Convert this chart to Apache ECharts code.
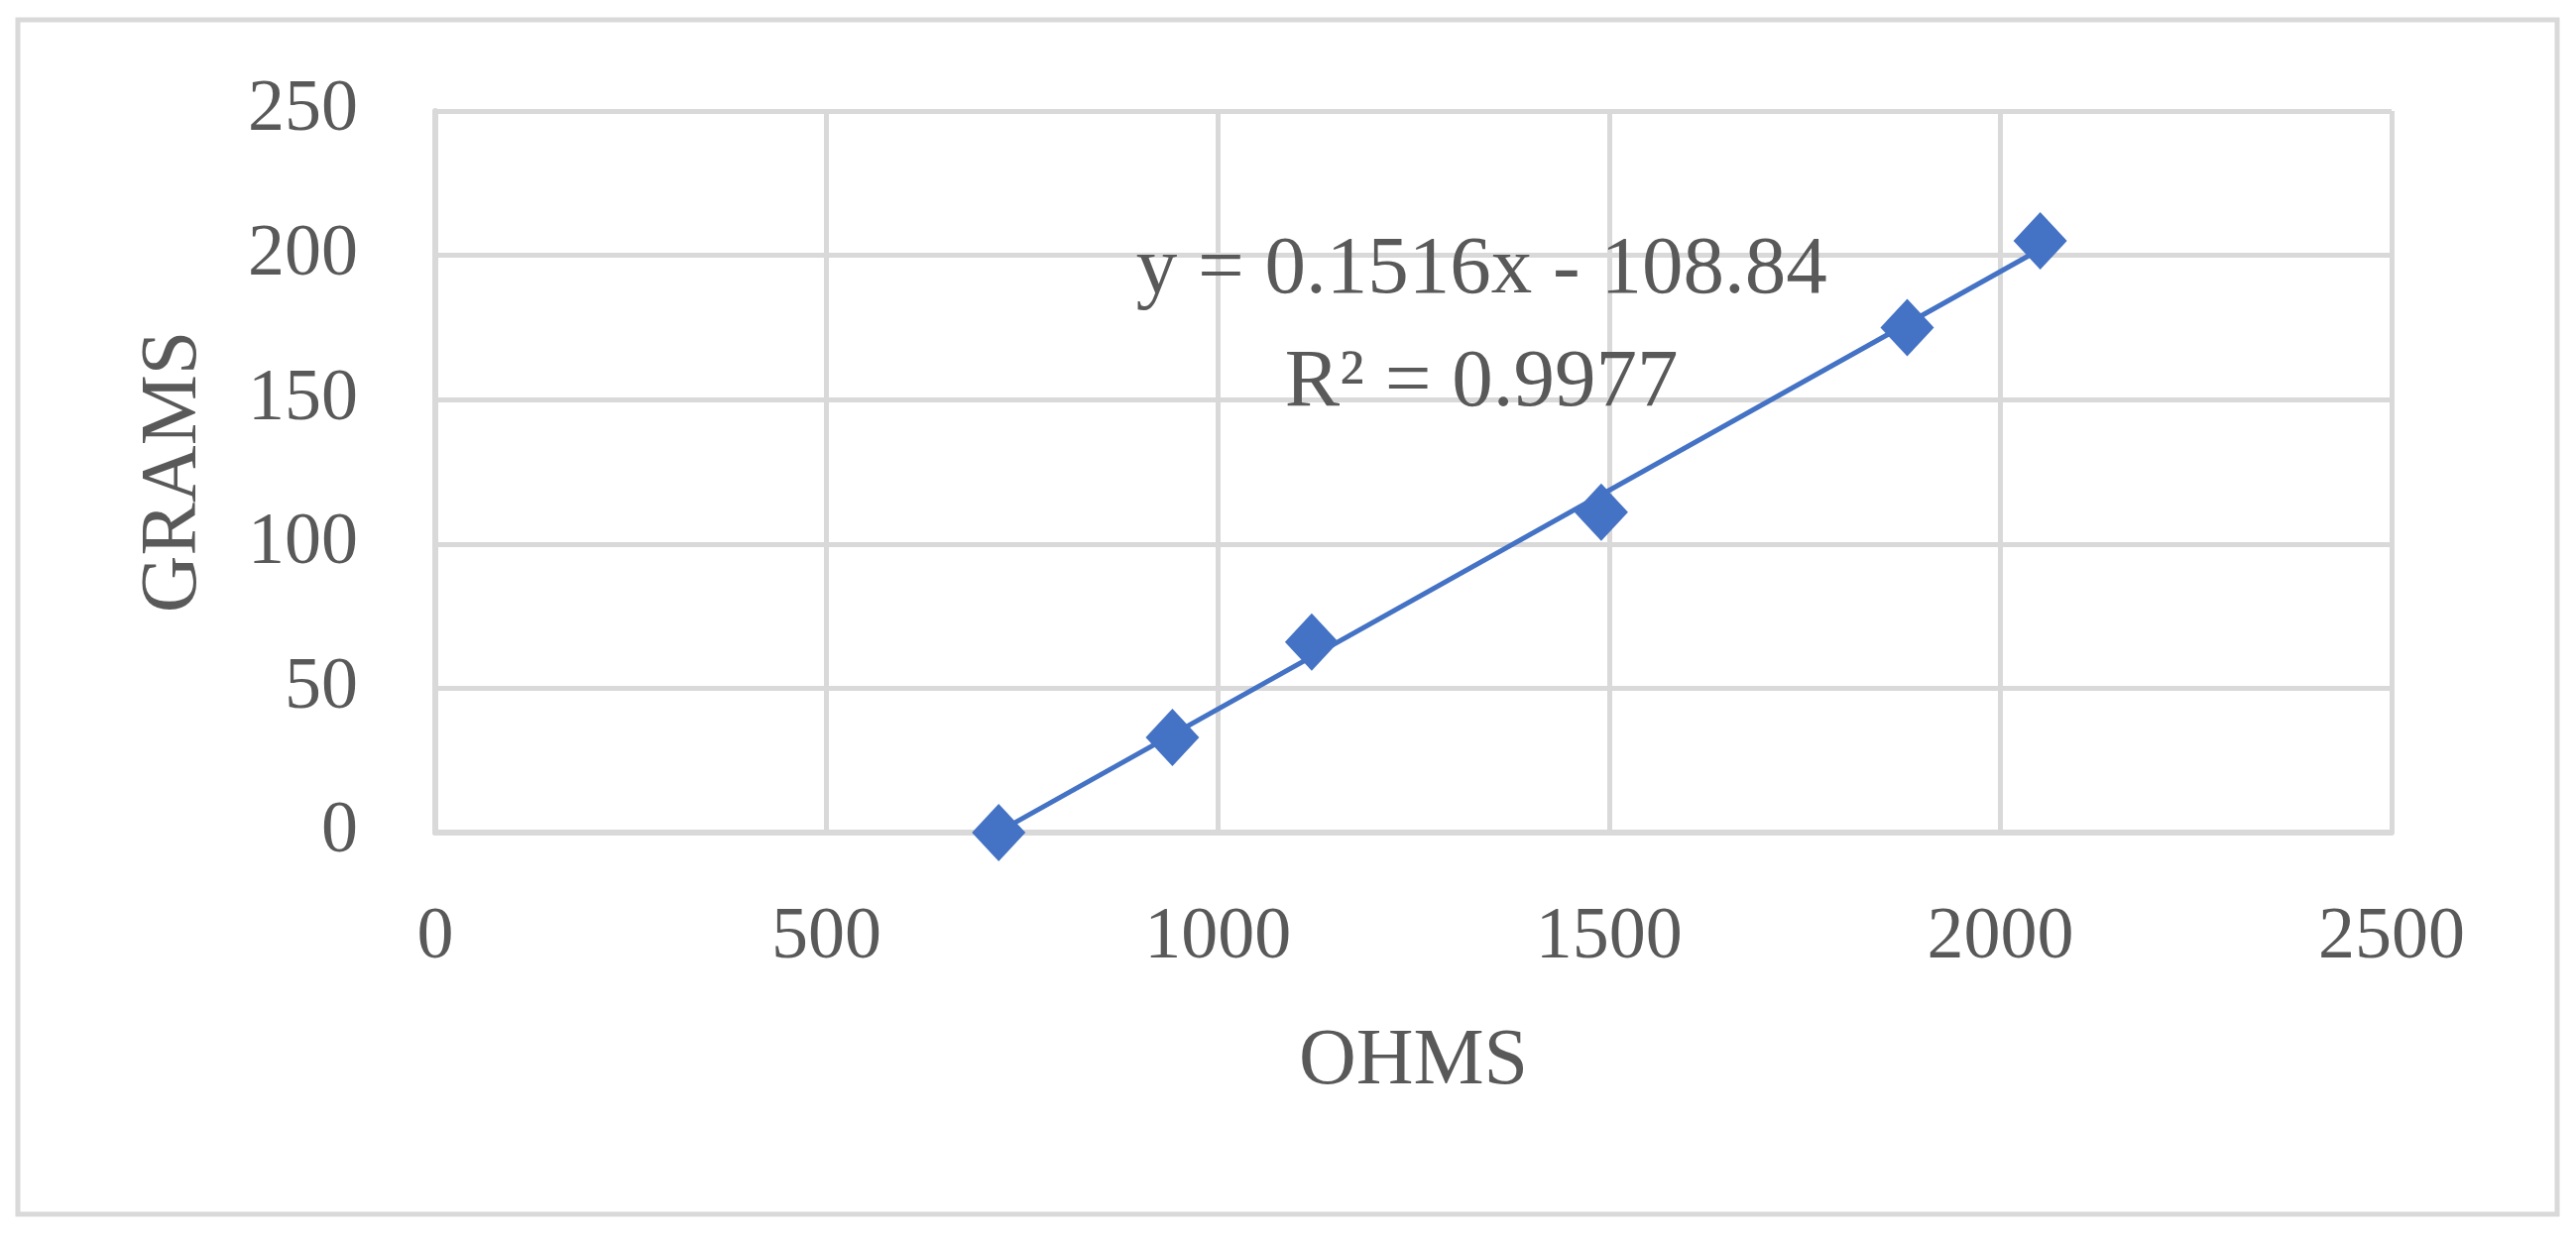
<!DOCTYPE html>
<html>
<head>
<meta charset="utf-8">
<script src="https://cdn.jsdelivr.net/npm/echarts@6/dist/echarts.min.js"></script>
<style>
  html, body { margin: 0; padding: 0; background: #fff; }
  #c1 { width: 2598px; height: 1245px; }
</style>
</head>
<body>
<div id="c1"></div>
<script>
// measured points (ohms, grams)
var ohms = [720, 942, 1120, 1490, 1881, 2051];
var grams = [0, 33, 66, 111, 175, 205];

// linear trendline as printed on the chart
var slope = 0.1516;
var intercept = -108.84;
var trendText = ["y = 0.1516x - 108.84", "R² = 0.9977"];

var xTicks = [0, 500, 1000, 1500, 2000, 2500];
var yTicks = [0, 50, 100, 150, 200, 250];

var textColor = "#595959";
var gridColor = "#D9D9D9";
var blue = "#4472C4";
var font = "'Liberation Serif', serif";

var chartDom = document.getElementById("c1");
var myChart = echarts.init(chartDom);

var points = ohms.map(function (x, i) {
  return [x, grams[i]];
});
var xFirst = ohms[0];
var xLast = ohms[ohms.length - 1];
var trend = [
  [xFirst, slope * xFirst + intercept],
  [xLast, slope * xLast + intercept],
];

var frame = {
  type: "rect",
  shape: { x: 18, y: 20, width: 2561, height: 1205 },
  style: { fill: "none", stroke: gridColor, lineWidth: 5 },
  silent: true,
};

var option = {
  animation: false,
  backgroundColor: "#fff",
  grid: {
    left: 439,
    right: 186,
    top: 112,
    bottom: 405,
  },
  xAxis: {
    type: "value",
    min: xTicks[0],
    max: xTicks[xTicks.length - 1],
    interval: 500,
    name: "OHMS",
    nameLocation: "middle",
    nameGap: 192,
    nameTextStyle: {
      color: textColor,
      fontFamily: font,
      fontSize: 80,
      lineHeight: 80,
    },
    axisLine: { show: true, lineStyle: { color: gridColor, width: 6 } },
    axisTick: { show: false },
    axisLabel: {
      color: textColor,
      fontFamily: font,
      fontSize: 74,
      lineHeight: 74,
      margin: 70,
      formatter: function (v) {
        return String(v);
      },
    },
    splitLine: { show: true, lineStyle: { color: gridColor, width: 5 } },
  },
  yAxis: {
    type: "value",
    min: yTicks[0],
    max: yTicks[yTicks.length - 1],
    interval: 50,
    name: "GRAMS",
    nameLocation: "middle",
    nameGap: 223,
    nameTextStyle: {
      color: textColor,
      fontFamily: font,
      fontSize: 80,
      lineHeight: 80,
    },
    axisLine: { show: true, lineStyle: { color: gridColor, width: 6 } },
    axisTick: { show: false },
    axisLabel: {
      color: textColor,
      fontFamily: font,
      fontSize: 74,
      margin: 78,
      formatter: function (v) {
        return String(v);
      },
    },
    splitLine: { show: true, lineStyle: { color: gridColor, width: 5 } },
  },
  series: [
    {
      name: "trend",
      type: "line",
      data: trend,
      showSymbol: false,
      symbol: "none",
      lineStyle: { color: blue, width: 5 },
      z: 2,
    },
    {
      name: "GRAMS",
      type: "scatter",
      data: points,
      symbol: "diamond",
      symbolSize: [54, 58],
      itemStyle: { color: blue, opacity: 1 },
      z: 3,
    },
  ],
  graphic: [frame],
};

myChart.setOption(option);

// place the trendline label in data coordinates
var labelPos = myChart.convertToPixel({ gridIndex: 0 }, [1337, 175]);
myChart.setOption({
  graphic: [
    frame,
    {
      type: "text",
      x: labelPos[0],
      y: labelPos[1],
      z: 10,
      style: {
        text: trendText.join("\n"),
        fill: textColor,
        font: "83px " + font,
        lineHeight: 114,
        align: "center",
        verticalAlign: "middle",
      },
    },
  ],
});

window.addEventListener("resize", function () {
  myChart.resize();
});
</script>
</body>
</html>
